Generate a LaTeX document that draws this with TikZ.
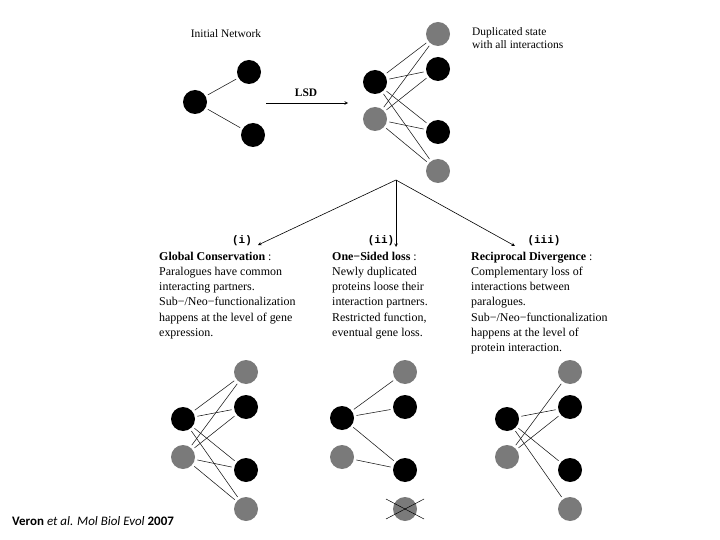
\documentclass[tikz,border=0pt]{standalone}
\usepackage{fontspec}
\setmainfont{Liberation Serif}
\setmonofont{Liberation Mono}
\newfontfamily\capfont{Carlito}
\usepackage{tikz}
\definecolor{pgray}{RGB}{122,122,122}

\begin{document}
\begin{tikzpicture}[x=1bp,y=-1bp]
  \tikzstyle{every node}+=[inner sep=0pt]
  \tikzstyle{blk}=[circle, fill=black, minimum size=24bp]
  \tikzstyle{gry}=[circle, fill=pgray, minimum size=24bp]
  \tikzstyle{link}=[black!90, line width=0.55bp, shorten <=2.5bp, shorten >=2.5bp]
  \tikzstyle{arr}=[black, line width=0.6bp, ->, >=stealth]
  \tikzstyle{small}=[font=\fontsize{11.5}{13.5}\selectfont]
  \tikzstyle{txt}=[anchor=north west, align=left, font=\fontsize{12}{15.2}\selectfont]
  \tikzstyle{roman}=[font=\ttfamily\bfseries\fontsize{11}{13}\selectfont]
  \useasboundingbox (0,0) rectangle (720,540);

  % initial network
  \node[small] (title) at (226,34) {Initial Network};
  \node[blk] (i0) at (195,102) {};
  \node[blk] (i1) at (249,72) {};
  \node[blk] (i2) at (253,135) {};
  \draw[link] (i0) -- (i1);
  \draw[link] (i0) -- (i2);

  % LSD step
  \coordinate (l0) at (266,103);
  \coordinate (l1) at (348,103);
  \draw[arr] (l0) -- (l1);
  \node[font=\bfseries\fontsize{11.5}{13}\selectfont] (lsd) at (306,93) {LSD};

  % duplicated state
  \node[blk] (d0) at (375,82) {};
  \node[gry] (d1) at (375,119) {};
  \node[gry] (d2) at (438,34) {};
  \node[blk] (d3) at (438,69) {};
  \node[blk] (d4) at (438,132) {};
  \node[gry] (d5) at (438,171) {};
  \foreach \s in {d0,d1}
    \foreach \t in {d2,d3,d4,d5}
      \draw[link] (\s) -- (\t);
  \node[small, anchor=north west, align=left] (dup) at (472,27)
    {Duplicated state\\with all interactions};

  % three outcomes
  \coordinate (br) at (396,180);
  \coordinate (c1) at (258,245);
  \coordinate (c2) at (396,247);
  \coordinate (c3) at (515,246);
  \draw[arr] (br) -- (c1);
  \draw[arr] (br) -- (c2);
  \draw[arr] (br) -- (c3);
  \node[roman] (k1) at (242,241) {(i)};
  \node[roman] (k2) at (381,241) {(ii)};
  \node[roman] (k3) at (544,241) {(iii)};

  \node[txt] (t1) at (159,252) {\textbf{Global Conservation} :\\Paralogues have common\\interacting partners.\\Sub−/Neo−functionalization\\happens at the level of gene\\expression.};
  \node[txt] (t2) at (332,252) {\textbf{One−Sided loss} :\\Newly duplicated\\proteins loose their\\interaction partners.\\Restricted function,\\eventual gene loss.};
  \node[txt] (t3) at (471,252) {\textbf{Reciprocal Divergence} :\\Complementary loss of\\interactions between\\paralogues.\\Sub−/Neo−functionalization\\happens at the level of\\protein interaction.};

  % (i) global conservation
  \node[blk] (g0) at (183,419) {};
  \node[gry] (g1) at (183,457) {};
  \node[gry] (g2) at (246,372) {};
  \node[blk] (g3) at (246,407) {};
  \node[blk] (g4) at (246,470) {};
  \node[gry] (g5) at (246,509) {};
  \foreach \s in {g0,g1}
    \foreach \t in {g2,g3,g4,g5}
      \draw[link] (\s) -- (\t);

  % (ii) one-sided loss
  \node[blk] (o0) at (342,418) {};
  \node[gry] (o1) at (342,457) {};
  \node[gry] (o2) at (405,372) {};
  \node[blk] (o3) at (405,407) {};
  \node[blk] (o4) at (405,470) {};
  \node[gry] (o5) at (405,509) {};
  \draw[link] (o0) -- (o2);
  \draw[link] (o0) -- (o3);
  \draw[link] (o0) -- (o4);
  \draw[link] (o1) -- (o4);
  \draw[line width=0.5bp] ([shift={(-19,-10)}]o5.center) -- ([shift={(19,10)}]o5.center);
  \draw[line width=0.5bp] ([shift={(19,-10)}]o5.center) -- ([shift={(-19,10)}]o5.center);

  % (iii) reciprocal divergence
  \node[blk] (r0) at (507,419) {};
  \node[gry] (r1) at (507,457) {};
  \node[gry] (r2) at (570,372) {};
  \node[blk] (r3) at (570,407) {};
  \node[blk] (r4) at (570,470) {};
  \node[gry] (r5) at (570,509) {};
  \draw[link] (r0) -- (r3);
  \draw[link] (r0) -- (r4);
  \draw[link] (r0) -- (r5);
  \draw[link] (r1) -- (r2);
  \draw[link] (r1) -- (r3);

  % citation
  \node[anchor=west, font=\capfont\fontsize{13}{15}\selectfont] (cite) at (12,521)
    {\textbf{Veron} \textit{et al.} \textit{Mol Biol Evol} \textbf{2007}};
\end{tikzpicture}
\end{document}
